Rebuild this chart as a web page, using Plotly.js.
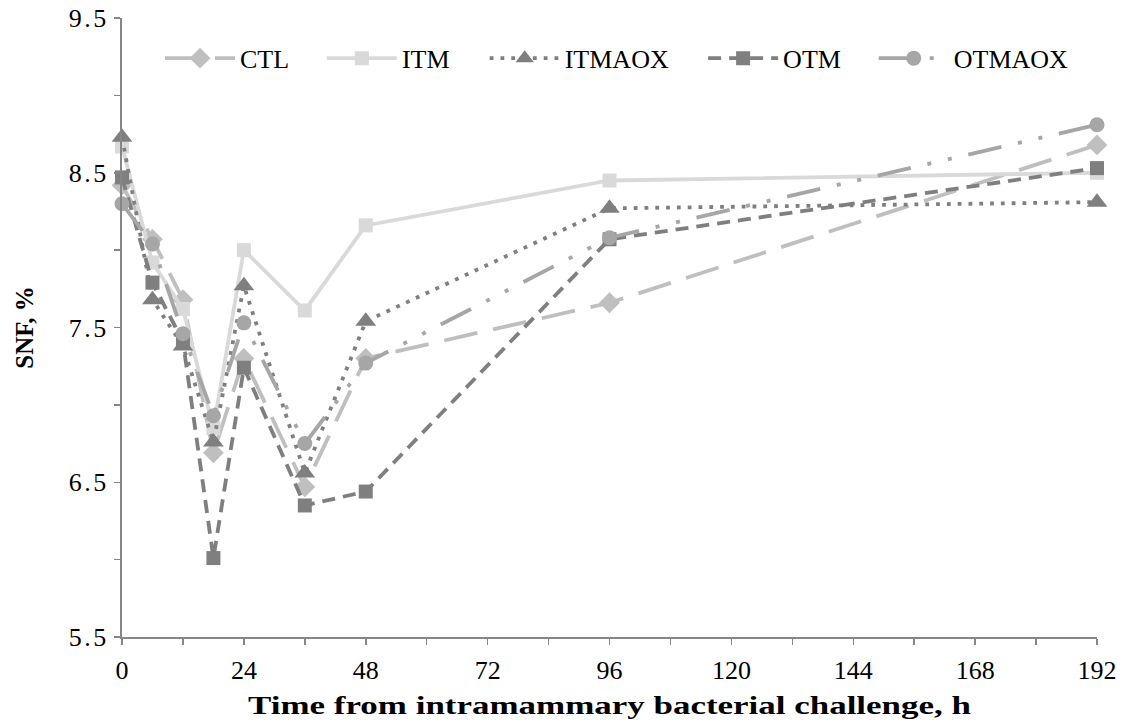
<!DOCTYPE html>
<html>
<head>
<meta charset="utf-8">
<script src="https://cdn.plot.ly/plotly-3.0.1.min.js"></script>
<style>
  html, body { margin: 0; padding: 0; background: #ffffff; }
  #chart { width: 1125px; height: 723px; }
  /* horizontally widened x-axis title, wider tracking on the y tick labels */
  #chart .xtitle { transform-box: fill-box; transform-origin: center; transform: scaleX(1.345); }
  #chart .ytick text { letter-spacing: 2.5px; }
</style>
</head>
<body>
<div id="chart"></div>
<script>
// Sampling times (h from intramammary bacterial challenge)
const hours = [0, 6, 12, 18, 24, 36, 48, 96, 192];

// Solids-not-fat (%) per treatment group
const ctl    = [8.42, 8.07, 7.68, 6.69, 7.30, 6.47, 7.30, 7.66, 8.68];
const itm    = [8.67, 7.92, 7.62, 6.85, 8.00, 7.61, 8.16, 8.45, 8.50];
const itmaox = [8.73, 7.68, 7.38, 6.76, 7.77, 6.56, 7.54, 8.27, 8.31];
const otm    = [8.47, 7.79, 7.41, 6.01, 7.24, 6.35, 6.44, 8.07, 8.53];
const otmaox = [8.30, 8.04, 7.46, 6.93, 7.53, 6.75, 7.27, 8.08, 8.81];

const groupNames = ['CTL', 'ITM', 'ITMAOX', 'OTM', 'OTMAOX'];

// Axis ticks: every 12 h / 0.5 %, labelled every 24 h / 1 %
const xTickVals = [0, 12, 24, 36, 48, 60, 72, 84, 96, 108, 120, 132, 144, 156, 168, 180, 192];
const xTickText = ['0', '', '24', '', '48', '', '72', '', '96', '', '120', '', '144', '', '168', '', '192'];
const yTickVals = [5.5, 6, 6.5, 7, 7.5, 8, 8.5, 9, 9.5];
const yTickText = ['5.5', '', '6.5', '', '7.5', '', '8.5', '', '9.5'];

const serif = '"Liberation Serif"';

function series(name, y, color, dash, symbol, size, legendId) {
  return {
    type: 'scatter',
    mode: 'lines+markers',
    name: name,
    x: hours,
    y: y,
    cliponaxis: false,
    legend: legendId,
    line: { color: color, width: 3.8, dash: dash },
    marker: { color: color, symbol: symbol, size: size, line: { width: 0 } }
  };
}

const traces = [
  series(groupNames[0], ctl,    '#bfbfbf', '34px,16px',                   'diamond',     16, 'legend'),
  series(groupNames[1], itm,    '#d9d9d9', 'solid',                       'square',      14, 'legend2'),
  series(groupNames[2], itmaox, '#7f7f7f', '3.8px,7px',                   'triangle-up', 18, 'legend3'),
  series(groupNames[3], otm,    '#7f7f7f', '13px,8px',                    'square',      14, 'legend4'),
  series(groupNames[4], otmaox, '#a6a6a6', '34px,17px,4px,17px,4px,17px', 'circle',      15, 'legend5')
];

function legendAt(x) {
  return {
    x: x, y: 0.935, xanchor: 'left', yanchor: 'middle',
    orientation: 'h', bgcolor: 'rgba(0,0,0,0)', borderwidth: 0,
    itemwidth: 70, font: { family: serif, size: 26, color: '#000000' }
  };
}

const axisCommon = {
  tickmode: 'array',
  ticks: 'outside',
  ticklen: 6,
  tickwidth: 1.5,
  tickcolor: '#868686',
  showline: true,
  linecolor: '#868686',
  linewidth: 2,
  showgrid: false,
  zeroline: false,
  tickfont: { family: serif, size: 26, color: '#000000' }
};

const layout = {
  width: 1125,
  height: 723,
  paper_bgcolor: '#ffffff',
  plot_bgcolor: '#ffffff',
  margin: { l: 122, r: 28, t: 18, b: 86 },
  font: { family: serif, size: 26, color: '#000000' },
  showlegend: true,
  legend: legendAt(0.039),
  legend2: legendAt(0.205),
  legend3: legendAt(0.372),
  legend4: legendAt(0.596),
  legend5: legendAt(0.771),
  xaxis: Object.assign({}, axisCommon, {
    range: [0, 192],
    tickvals: xTickVals,
    ticktext: xTickText,
    ticklabelstandoff: 3,
    title: { text: '<b>Time from intramammary bacterial challenge, h</b>', font: { family: serif, size: 26, color: '#000000' }, standoff: 12 }
  }),
  yaxis: Object.assign({}, axisCommon, {
    range: [5.5, 9.5],
    tickvals: yTickVals,
    ticktext: yTickText,
    title: { text: '<b>SNF, %</b>', font: { family: serif, size: 25, color: '#000000' }, standoff: 36 }
  })
};

Plotly.newPlot('chart', traces, layout, { displayModeBar: false, staticPlot: true });
</script>
</body>
</html>
